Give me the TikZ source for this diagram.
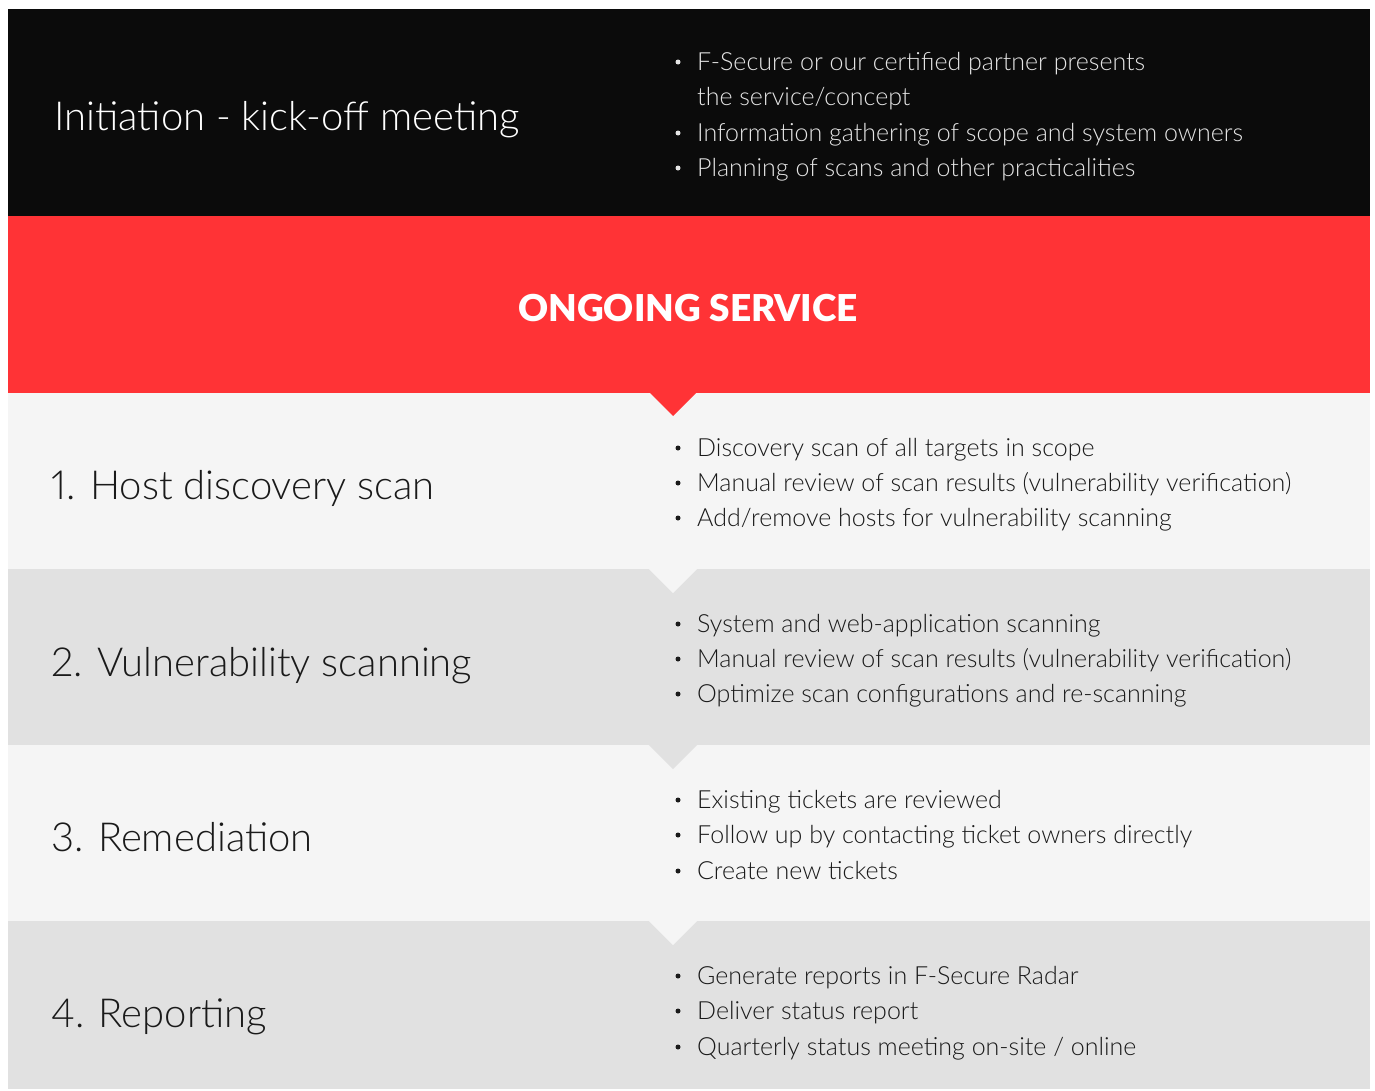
\documentclass[tikz,border=0pt]{standalone}
\usepackage{fontspec}
\setmainfont{Lato Light}[Numbers=Proportional]
\newfontfamily\headfont{Lato Black}
\definecolor{topblack}{HTML}{0B0B0B}
\definecolor{fsred}{HTML}{FF3336}
\definecolor{rowlight}{HTML}{F5F5F5}
\definecolor{rowgray}{HTML}{E1E1E1}
\definecolor{txtdark}{HTML}{1A1A1A}
\begin{document}
\begin{tikzpicture}[x=1pt,y=-1pt,
  phase/.style={anchor=base west,inner sep=0pt,font=\fontsize{40}{48}\selectfont},
  item/.style={anchor=base west,inner sep=0pt,font=\fontsize{25}{35}\selectfont},
  dot/.style={circle,inner sep=0pt,minimum size=5pt}]
\useasboundingbox (0,0) rectangle (1375,1090);
\fill[white] (0,0) rectangle (1375,1090);
% bands
\fill[topblack] (8,9) rectangle (1370,217);
\fill[rowlight] (8,393) rectangle (1370,569);
\fill[rowgray] (8,569) rectangle (1370,745);
\fill[rowlight] (8,745) rectangle (1370,921);
\fill[rowgray] (8,921) rectangle (1370,1089);
\fill[fsred] (8,216) rectangle (1370,393);
% notches
\fill[fsred] (649,392) -- (697,392) -- (673,416) -- cycle;
\fill[rowlight] (648,568) -- (698,568) -- (673,593) -- cycle;
\fill[rowgray] (648,744) -- (698,744) -- (673,769) -- cycle;
\fill[rowlight] (648,920) -- (698,920) -- (673,945) -- cycle;
% title
\node[anchor=base,inner sep=0pt,text=white,font=\headfont\fontsize{37}{44}\selectfont] (title) at (688,321) {ONGOING SERVICE};
% top
\node[phase,text=white] (p0) at (54,130) {Initiation - kick-off meeting};
\foreach \y/\t [count=\i] in {70/{F-Secure or our certified partner presents},141/{Information gathering of scope and system owners},176/{Planning of scans and other practicalities}}{
  \node[dot,fill=white!90!black] (b0\i) at (678,\y-8) {};
  \node[item,text=white!90!black] (t0\i) at (697,\y) {\t};
}
\node[item,text=white!90!black] (t0x) at (697,105) {the service/concept};
% rows
\node[phase,text=txtdark] (p1) at (51,499) {1. Host discovery scan};
\node[phase,text=txtdark] (p2) at (51,676) {2. Vulnerability scanning};
\node[phase,text=txtdark] (p3) at (51,851) {3. Remediation};
\node[phase,text=txtdark] (p4) at (51,1027) {4. Reporting};
\foreach \r/\ya/\yb/\yc/\ta/\tb/\tc in {
 1/456/491/526/{Discovery scan of all targets in scope}/{Manual review of scan results (vulnerability verification)}/{Add/remove hosts for vulnerability scanning},
 2/632/667/702/{System and web-application scanning}/{Manual review of scan results (vulnerability verification)}/{Optimize scan configurations and re-scanning},
 3/808/843/879/{Existing tickets are reviewed}/{Follow up by contacting ticket owners directly}/{Create new tickets},
 4/984/1019/1055/{Generate reports in F-Secure Radar}/{Deliver status report}/{Quarterly status meeting on-site / online}}{
  \node[dot,fill=txtdark] (b\r a) at (678,\ya-8) {};
  \node[dot,fill=txtdark] (b\r b) at (678,\yb-8) {};
  \node[dot,fill=txtdark] (b\r c) at (678,\yc-8) {};
  \node[item,text=txtdark] (t\r a) at (697,\ya) {\ta};
  \node[item,text=txtdark] (t\r b) at (697,\yb) {\tb};
  \node[item,text=txtdark] (t\r c) at (697,\yc) {\tc};
}
\end{tikzpicture}
\end{document}
